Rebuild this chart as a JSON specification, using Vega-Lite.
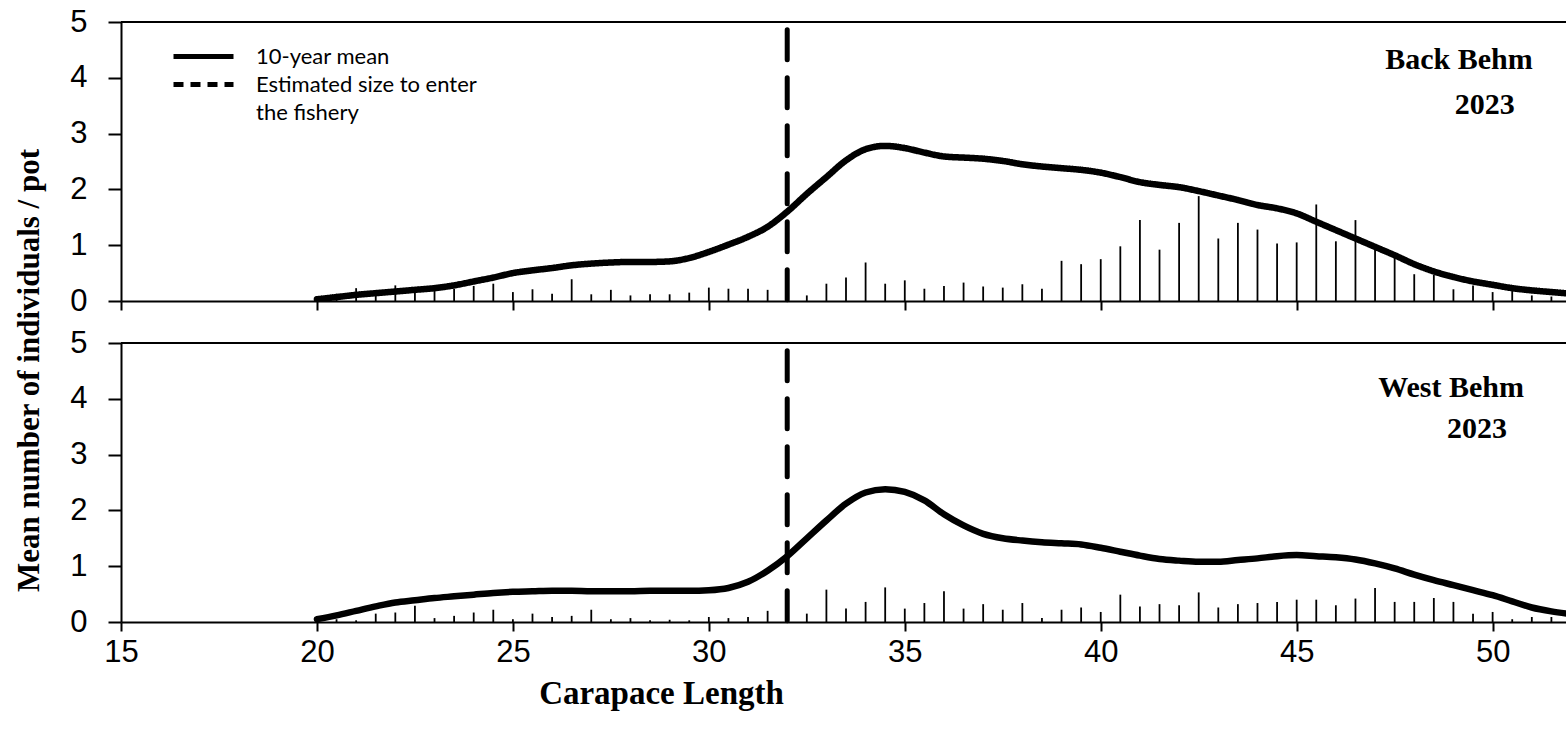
{
  "$schema": "https://vega.github.io/schema/vega-lite/v6.json",
  "background": "white",
  "padding": {"left": 13, "top": 6, "right": 0, "bottom": 5},
  "spacing": 42,
  "bounds": "flush",
  "datasets": {
    "bars": [
      {"site": "Back Behm", "cl": 20.5, "n": 0.13}, {"site": "Back Behm", "cl": 21.0, "n": 0.23}, {"site": "Back Behm", "cl": 21.5, "n": 0.1},
      {"site": "Back Behm", "cl": 22.0, "n": 0.28}, {"site": "Back Behm", "cl": 22.5, "n": 0.16}, {"site": "Back Behm", "cl": 23.0, "n": 0.19},
      {"site": "Back Behm", "cl": 23.5, "n": 0.22}, {"site": "Back Behm", "cl": 24.0, "n": 0.27}, {"site": "Back Behm", "cl": 24.5, "n": 0.31},
      {"site": "Back Behm", "cl": 25.0, "n": 0.16}, {"site": "Back Behm", "cl": 25.5, "n": 0.21}, {"site": "Back Behm", "cl": 26.0, "n": 0.13},
      {"site": "Back Behm", "cl": 26.5, "n": 0.39}, {"site": "Back Behm", "cl": 27.0, "n": 0.12}, {"site": "Back Behm", "cl": 27.5, "n": 0.2},
      {"site": "Back Behm", "cl": 28.0, "n": 0.1}, {"site": "Back Behm", "cl": 28.5, "n": 0.12}, {"site": "Back Behm", "cl": 29.0, "n": 0.12},
      {"site": "Back Behm", "cl": 29.5, "n": 0.15}, {"site": "Back Behm", "cl": 30.0, "n": 0.24}, {"site": "Back Behm", "cl": 30.5, "n": 0.22},
      {"site": "Back Behm", "cl": 31.0, "n": 0.22}, {"site": "Back Behm", "cl": 31.5, "n": 0.2}, {"site": "Back Behm", "cl": 32.5, "n": 0.1},
      {"site": "Back Behm", "cl": 33.0, "n": 0.31}, {"site": "Back Behm", "cl": 33.5, "n": 0.42}, {"site": "Back Behm", "cl": 34.0, "n": 0.69},
      {"site": "Back Behm", "cl": 34.5, "n": 0.31}, {"site": "Back Behm", "cl": 35.0, "n": 0.37}, {"site": "Back Behm", "cl": 35.5, "n": 0.22},
      {"site": "Back Behm", "cl": 36.0, "n": 0.27}, {"site": "Back Behm", "cl": 36.5, "n": 0.33}, {"site": "Back Behm", "cl": 37.0, "n": 0.26},
      {"site": "Back Behm", "cl": 37.5, "n": 0.24}, {"site": "Back Behm", "cl": 38.0, "n": 0.3}, {"site": "Back Behm", "cl": 38.5, "n": 0.22},
      {"site": "Back Behm", "cl": 39.0, "n": 0.72}, {"site": "Back Behm", "cl": 39.5, "n": 0.66}, {"site": "Back Behm", "cl": 40.0, "n": 0.75},
      {"site": "Back Behm", "cl": 40.5, "n": 0.98}, {"site": "Back Behm", "cl": 41.0, "n": 1.45}, {"site": "Back Behm", "cl": 41.5, "n": 0.92},
      {"site": "Back Behm", "cl": 42.0, "n": 1.4}, {"site": "Back Behm", "cl": 42.5, "n": 1.88}, {"site": "Back Behm", "cl": 43.0, "n": 1.12},
      {"site": "Back Behm", "cl": 43.5, "n": 1.4}, {"site": "Back Behm", "cl": 44.0, "n": 1.28}, {"site": "Back Behm", "cl": 44.5, "n": 1.03},
      {"site": "Back Behm", "cl": 45.0, "n": 1.05}, {"site": "Back Behm", "cl": 45.5, "n": 1.73}, {"site": "Back Behm", "cl": 46.0, "n": 1.07},
      {"site": "Back Behm", "cl": 46.5, "n": 1.45}, {"site": "Back Behm", "cl": 47.0, "n": 0.95}, {"site": "Back Behm", "cl": 47.5, "n": 0.78},
      {"site": "Back Behm", "cl": 48.0, "n": 0.48}, {"site": "Back Behm", "cl": 48.5, "n": 0.47}, {"site": "Back Behm", "cl": 49.0, "n": 0.21},
      {"site": "Back Behm", "cl": 49.5, "n": 0.28}, {"site": "Back Behm", "cl": 50.0, "n": 0.16}, {"site": "Back Behm", "cl": 50.5, "n": 0.26},
      {"site": "Back Behm", "cl": 51.0, "n": 0.1}, {"site": "Back Behm", "cl": 51.5, "n": 0.08},
      {"site": "West Behm", "cl": 20.5, "n": 0.05}, {"site": "West Behm", "cl": 21.0, "n": 0.03}, {"site": "West Behm", "cl": 21.5, "n": 0.15},
      {"site": "West Behm", "cl": 22.0, "n": 0.17}, {"site": "West Behm", "cl": 22.5, "n": 0.29}, {"site": "West Behm", "cl": 23.0, "n": 0.07},
      {"site": "West Behm", "cl": 23.5, "n": 0.11}, {"site": "West Behm", "cl": 24.0, "n": 0.17}, {"site": "West Behm", "cl": 24.5, "n": 0.22},
      {"site": "West Behm", "cl": 25.0, "n": 0.05}, {"site": "West Behm", "cl": 25.5, "n": 0.15}, {"site": "West Behm", "cl": 26.0, "n": 0.09},
      {"site": "West Behm", "cl": 26.5, "n": 0.11}, {"site": "West Behm", "cl": 27.0, "n": 0.22}, {"site": "West Behm", "cl": 27.5, "n": 0.05},
      {"site": "West Behm", "cl": 28.0, "n": 0.07}, {"site": "West Behm", "cl": 28.5, "n": 0.03}, {"site": "West Behm", "cl": 29.0, "n": 0.04},
      {"site": "West Behm", "cl": 29.5, "n": 0.03}, {"site": "West Behm", "cl": 30.0, "n": 0.09}, {"site": "West Behm", "cl": 30.5, "n": 0.07},
      {"site": "West Behm", "cl": 31.0, "n": 0.09}, {"site": "West Behm", "cl": 31.5, "n": 0.2}, {"site": "West Behm", "cl": 32.5, "n": 0.15},
      {"site": "West Behm", "cl": 33.0, "n": 0.58}, {"site": "West Behm", "cl": 33.5, "n": 0.24}, {"site": "West Behm", "cl": 34.0, "n": 0.36},
      {"site": "West Behm", "cl": 34.5, "n": 0.62}, {"site": "West Behm", "cl": 35.0, "n": 0.24}, {"site": "West Behm", "cl": 35.5, "n": 0.34},
      {"site": "West Behm", "cl": 36.0, "n": 0.55}, {"site": "West Behm", "cl": 36.5, "n": 0.24}, {"site": "West Behm", "cl": 37.0, "n": 0.32},
      {"site": "West Behm", "cl": 37.5, "n": 0.22}, {"site": "West Behm", "cl": 38.0, "n": 0.34}, {"site": "West Behm", "cl": 38.5, "n": 0.07},
      {"site": "West Behm", "cl": 39.0, "n": 0.22}, {"site": "West Behm", "cl": 39.5, "n": 0.26}, {"site": "West Behm", "cl": 40.0, "n": 0.18},
      {"site": "West Behm", "cl": 40.5, "n": 0.49}, {"site": "West Behm", "cl": 41.0, "n": 0.28}, {"site": "West Behm", "cl": 41.5, "n": 0.32},
      {"site": "West Behm", "cl": 42.0, "n": 0.3}, {"site": "West Behm", "cl": 42.5, "n": 0.53}, {"site": "West Behm", "cl": 43.0, "n": 0.26},
      {"site": "West Behm", "cl": 43.5, "n": 0.32}, {"site": "West Behm", "cl": 44.0, "n": 0.34}, {"site": "West Behm", "cl": 44.5, "n": 0.36},
      {"site": "West Behm", "cl": 45.0, "n": 0.4}, {"site": "West Behm", "cl": 45.5, "n": 0.4}, {"site": "West Behm", "cl": 46.0, "n": 0.3},
      {"site": "West Behm", "cl": 46.5, "n": 0.42}, {"site": "West Behm", "cl": 47.0, "n": 0.61}, {"site": "West Behm", "cl": 47.5, "n": 0.36},
      {"site": "West Behm", "cl": 48.0, "n": 0.36}, {"site": "West Behm", "cl": 48.5, "n": 0.43}, {"site": "West Behm", "cl": 49.0, "n": 0.36},
      {"site": "West Behm", "cl": 49.5, "n": 0.15}, {"site": "West Behm", "cl": 50.0, "n": 0.18}, {"site": "West Behm", "cl": 50.5, "n": 0.05},
      {"site": "West Behm", "cl": 51.0, "n": 0.09}, {"site": "West Behm", "cl": 51.5, "n": 0.09}
    ],
    "mean": [
      {"site": "Back Behm", "cl": 20, "m": 0.03}, {"site": "Back Behm", "cl": 20.5, "m": 0.07}, {"site": "Back Behm", "cl": 21, "m": 0.11},
      {"site": "Back Behm", "cl": 21.5, "m": 0.14}, {"site": "Back Behm", "cl": 22, "m": 0.17}, {"site": "Back Behm", "cl": 22.5, "m": 0.2},
      {"site": "Back Behm", "cl": 23, "m": 0.23}, {"site": "Back Behm", "cl": 23.5, "m": 0.28}, {"site": "Back Behm", "cl": 24, "m": 0.35},
      {"site": "Back Behm", "cl": 24.5, "m": 0.42}, {"site": "Back Behm", "cl": 25, "m": 0.5}, {"site": "Back Behm", "cl": 25.5, "m": 0.55},
      {"site": "Back Behm", "cl": 26, "m": 0.59}, {"site": "Back Behm", "cl": 26.5, "m": 0.64}, {"site": "Back Behm", "cl": 27, "m": 0.67},
      {"site": "Back Behm", "cl": 27.5, "m": 0.69}, {"site": "Back Behm", "cl": 28, "m": 0.7}, {"site": "Back Behm", "cl": 28.5, "m": 0.7},
      {"site": "Back Behm", "cl": 29, "m": 0.71}, {"site": "Back Behm", "cl": 29.5, "m": 0.77}, {"site": "Back Behm", "cl": 30, "m": 0.88},
      {"site": "Back Behm", "cl": 30.5, "m": 1.01}, {"site": "Back Behm", "cl": 31, "m": 1.15}, {"site": "Back Behm", "cl": 31.5, "m": 1.33},
      {"site": "Back Behm", "cl": 32, "m": 1.6}, {"site": "Back Behm", "cl": 32.5, "m": 1.92}, {"site": "Back Behm", "cl": 33, "m": 2.22},
      {"site": "Back Behm", "cl": 33.5, "m": 2.52}, {"site": "Back Behm", "cl": 34, "m": 2.72}, {"site": "Back Behm", "cl": 34.5, "m": 2.78},
      {"site": "Back Behm", "cl": 35, "m": 2.74}, {"site": "Back Behm", "cl": 35.5, "m": 2.66}, {"site": "Back Behm", "cl": 36, "m": 2.59},
      {"site": "Back Behm", "cl": 36.5, "m": 2.57}, {"site": "Back Behm", "cl": 37, "m": 2.55}, {"site": "Back Behm", "cl": 37.5, "m": 2.51},
      {"site": "Back Behm", "cl": 38, "m": 2.45}, {"site": "Back Behm", "cl": 38.5, "m": 2.41}, {"site": "Back Behm", "cl": 39, "m": 2.38},
      {"site": "Back Behm", "cl": 39.5, "m": 2.35}, {"site": "Back Behm", "cl": 40, "m": 2.3}, {"site": "Back Behm", "cl": 40.5, "m": 2.22},
      {"site": "Back Behm", "cl": 41, "m": 2.13}, {"site": "Back Behm", "cl": 41.5, "m": 2.08}, {"site": "Back Behm", "cl": 42, "m": 2.04},
      {"site": "Back Behm", "cl": 42.5, "m": 1.97}, {"site": "Back Behm", "cl": 43, "m": 1.89}, {"site": "Back Behm", "cl": 43.5, "m": 1.81},
      {"site": "Back Behm", "cl": 44, "m": 1.72}, {"site": "Back Behm", "cl": 44.5, "m": 1.66}, {"site": "Back Behm", "cl": 45, "m": 1.57},
      {"site": "Back Behm", "cl": 45.5, "m": 1.42}, {"site": "Back Behm", "cl": 46, "m": 1.27}, {"site": "Back Behm", "cl": 46.5, "m": 1.12},
      {"site": "Back Behm", "cl": 47, "m": 0.97}, {"site": "Back Behm", "cl": 47.5, "m": 0.82}, {"site": "Back Behm", "cl": 48, "m": 0.66},
      {"site": "Back Behm", "cl": 48.5, "m": 0.53}, {"site": "Back Behm", "cl": 49, "m": 0.43}, {"site": "Back Behm", "cl": 49.5, "m": 0.35},
      {"site": "Back Behm", "cl": 50, "m": 0.29}, {"site": "Back Behm", "cl": 50.5, "m": 0.23}, {"site": "Back Behm", "cl": 51, "m": 0.19},
      {"site": "Back Behm", "cl": 51.5, "m": 0.16}, {"site": "Back Behm", "cl": 52, "m": 0.13},
      {"site": "West Behm", "cl": 20, "m": 0.05}, {"site": "West Behm", "cl": 20.5, "m": 0.12}, {"site": "West Behm", "cl": 21, "m": 0.2},
      {"site": "West Behm", "cl": 21.5, "m": 0.28}, {"site": "West Behm", "cl": 22, "m": 0.35}, {"site": "West Behm", "cl": 22.5, "m": 0.39},
      {"site": "West Behm", "cl": 23, "m": 0.43}, {"site": "West Behm", "cl": 23.5, "m": 0.46}, {"site": "West Behm", "cl": 24, "m": 0.49},
      {"site": "West Behm", "cl": 24.5, "m": 0.52}, {"site": "West Behm", "cl": 25, "m": 0.54}, {"site": "West Behm", "cl": 25.5, "m": 0.55},
      {"site": "West Behm", "cl": 26, "m": 0.56}, {"site": "West Behm", "cl": 26.5, "m": 0.56}, {"site": "West Behm", "cl": 27, "m": 0.55},
      {"site": "West Behm", "cl": 27.5, "m": 0.55}, {"site": "West Behm", "cl": 28, "m": 0.55}, {"site": "West Behm", "cl": 28.5, "m": 0.56},
      {"site": "West Behm", "cl": 29, "m": 0.56}, {"site": "West Behm", "cl": 29.5, "m": 0.56}, {"site": "West Behm", "cl": 30, "m": 0.57},
      {"site": "West Behm", "cl": 30.5, "m": 0.61}, {"site": "West Behm", "cl": 31, "m": 0.72}, {"site": "West Behm", "cl": 31.5, "m": 0.92},
      {"site": "West Behm", "cl": 32, "m": 1.18}, {"site": "West Behm", "cl": 32.5, "m": 1.5}, {"site": "West Behm", "cl": 33, "m": 1.82},
      {"site": "West Behm", "cl": 33.5, "m": 2.12}, {"site": "West Behm", "cl": 34, "m": 2.32}, {"site": "West Behm", "cl": 34.5, "m": 2.38},
      {"site": "West Behm", "cl": 35, "m": 2.33}, {"site": "West Behm", "cl": 35.5, "m": 2.18}, {"site": "West Behm", "cl": 36, "m": 1.93},
      {"site": "West Behm", "cl": 36.5, "m": 1.73}, {"site": "West Behm", "cl": 37, "m": 1.58}, {"site": "West Behm", "cl": 37.5, "m": 1.5},
      {"site": "West Behm", "cl": 38, "m": 1.46}, {"site": "West Behm", "cl": 38.5, "m": 1.43}, {"site": "West Behm", "cl": 39, "m": 1.41},
      {"site": "West Behm", "cl": 39.5, "m": 1.39}, {"site": "West Behm", "cl": 40, "m": 1.33}, {"site": "West Behm", "cl": 40.5, "m": 1.26},
      {"site": "West Behm", "cl": 41, "m": 1.19}, {"site": "West Behm", "cl": 41.5, "m": 1.13}, {"site": "West Behm", "cl": 42, "m": 1.1},
      {"site": "West Behm", "cl": 42.5, "m": 1.08}, {"site": "West Behm", "cl": 43, "m": 1.08}, {"site": "West Behm", "cl": 43.5, "m": 1.11},
      {"site": "West Behm", "cl": 44, "m": 1.14}, {"site": "West Behm", "cl": 44.5, "m": 1.18}, {"site": "West Behm", "cl": 45, "m": 1.2},
      {"site": "West Behm", "cl": 45.5, "m": 1.18}, {"site": "West Behm", "cl": 46, "m": 1.16}, {"site": "West Behm", "cl": 46.5, "m": 1.12},
      {"site": "West Behm", "cl": 47, "m": 1.05}, {"site": "West Behm", "cl": 47.5, "m": 0.96}, {"site": "West Behm", "cl": 48, "m": 0.85},
      {"site": "West Behm", "cl": 48.5, "m": 0.75}, {"site": "West Behm", "cl": 49, "m": 0.66}, {"site": "West Behm", "cl": 49.5, "m": 0.57},
      {"site": "West Behm", "cl": 50, "m": 0.48}, {"site": "West Behm", "cl": 50.5, "m": 0.37}, {"site": "West Behm", "cl": 51, "m": 0.26},
      {"site": "West Behm", "cl": 51.5, "m": 0.19}, {"site": "West Behm", "cl": 52, "m": 0.14}
    ]
  },
  "vconcat": [
    {
      "width": 1450,
      "height": 279,
      "layer": [
        {
          "data": {"values": [{}]},
          "mark": {"type": "rule", "color": "black", "strokeWidth": 2},
          "encoding": {"y": {"datum": 5, "type": "quantitative", "scale": {"domain": [0, 5]}}}
        },
        {
          "data": {"name": "bars"},
          "transform": [{"filter": "datum.site == 'Back Behm'"}],
          "mark": {"type": "rule", "color": "black", "strokeWidth": 1.8},
          "encoding": {
            "x": {"field": "cl", "type": "quantitative", "scale": {"domain": [15, 52], "nice": false},
              "axis": {"values": [15, 20, 25, 30, 35, 40, 45, 50], "labels": false, "title": null, "tickSize": 9, "grid": false}},
            "y": {"field": "n", "type": "quantitative", "scale": {"domain": [0, 5]},
              "axis": {"values": [0, 1, 2, 3, 4, 5], "title": "Mean number of individuals / pot", "titleY": 348, "grid": false}},
            "y2": {"datum": 0}
          }
        },
        {
          "data": {"name": "mean"},
          "transform": [{"filter": "datum.site == 'Back Behm'"}],
          "mark": {"type": "line", "color": "black", "strokeWidth": 6.5, "interpolate": "monotone", "strokeCap": "round", "strokeJoin": "round", "clip": true},
          "encoding": {
            "x": {"field": "cl", "type": "quantitative"},
            "y": {"field": "m", "type": "quantitative"},
            "strokeDash": {"datum": "10-year mean", "type": "nominal",
              "scale": {"domain": ["10-year mean", "Estimated size to enter", "the fishery"], "range": [[1, 0], [10, 7], [0, 1000]]},
              "legend": {"orient": "none", "legendX": 70, "legendY": 22, "title": null, "symbolType": "M-3,0H3", "symbolSize": 400,
                "symbolStrokeWidth": 5, "symbolStrokeColor": "black", "labelFont": "Lato", "labelFontSize": 22, "labelColor": "black",
                "labelOffset": 40, "rowPadding": 4, "labelLimit": 400}}
          }
        },
        {
          "data": {"values": [{}]},
          "mark": {"type": "rule", "color": "black", "strokeWidth": 3},
          "encoding": {
            "x": {"datum": 32, "type": "quantitative"},
            "y": {"datum": 0, "type": "quantitative"},
            "y2": {"datum": 0},
            "strokeDash": {"datum": "Estimated size to enter", "type": "nominal"}
          }
        },
        {
          "data": {"values": [{}]},
          "mark": {"type": "rule", "color": "black", "strokeWidth": 5, "strokeCap": "round", "strokeDash": [30, 18]},
          "encoding": {"x": {"datum": 32, "type": "quantitative"}, "y": {"datum": 4.86, "type": "quantitative"}, "y2": {"datum": 0}}
        },
        {
          "data": {"values": [{}]},
          "mark": {"type": "text", "font": "Liberation Serif", "fontWeight": "bold", "fontSize": 30, "align": "center", "baseline": "middle", "color": "black"},
          "encoding": {"x": {"datum": 49.14, "type": "quantitative"}, "y": {"datum": 4.32, "type": "quantitative"}, "text": {"value": "Back Behm"}}
        },
        {
          "data": {"values": [{}]},
          "mark": {"type": "text", "font": "Liberation Serif", "fontWeight": "bold", "fontSize": 30, "align": "center", "baseline": "middle", "color": "black"},
          "encoding": {"x": {"datum": 49.8, "type": "quantitative"}, "y": {"datum": 3.52, "type": "quantitative"}, "text": {"value": "2023"}}
        }
      ]
    },
    {
      "width": 1450,
      "height": 279,
      "layer": [
        {
          "data": {"values": [{}]},
          "mark": {"type": "rule", "color": "black", "strokeWidth": 2},
          "encoding": {"y": {"datum": 5, "type": "quantitative", "scale": {"domain": [0, 5]}}}
        },
        {
          "data": {"name": "bars"},
          "transform": [{"filter": "datum.site == 'West Behm'"}],
          "mark": {"type": "rule", "color": "black", "strokeWidth": 1.8},
          "encoding": {
            "x": {"field": "cl", "type": "quantitative", "scale": {"domain": [15, 52], "nice": false},
              "axis": {"values": [15, 20, 25, 30, 35, 40, 45, 50], "title": "Carapace Length", "titleX": 540, "titleY": 55, "titleFontSize": 33, "tickSize": 9, "grid": false}},
            "y": {"field": "n", "type": "quantitative", "scale": {"domain": [0, 5]},
              "axis": {"values": [0, 1, 2, 3, 4, 5], "title": null, "grid": false}},
            "y2": {"datum": 0}
          }
        },
        {
          "data": {"name": "mean"},
          "transform": [{"filter": "datum.site == 'West Behm'"}],
          "mark": {"type": "line", "color": "black", "strokeWidth": 6.5, "interpolate": "monotone", "strokeCap": "round", "strokeJoin": "round", "clip": true},
          "encoding": {"x": {"field": "cl", "type": "quantitative"}, "y": {"field": "m", "type": "quantitative"}}
        },
        {
          "data": {"values": [{}]},
          "mark": {"type": "rule", "color": "black", "strokeWidth": 5, "strokeCap": "round", "strokeDash": [30, 18]},
          "encoding": {"x": {"datum": 32, "type": "quantitative"}, "y": {"datum": 4.86, "type": "quantitative"}, "y2": {"datum": 0}}
        },
        {
          "data": {"values": [{}]},
          "mark": {"type": "text", "font": "Liberation Serif", "fontWeight": "bold", "fontSize": 30, "align": "center", "baseline": "middle", "color": "black"},
          "encoding": {"x": {"datum": 48.94, "type": "quantitative"}, "y": {"datum": 4.2, "type": "quantitative"}, "text": {"value": "West Behm"}}
        },
        {
          "data": {"values": [{}]},
          "mark": {"type": "text", "font": "Liberation Serif", "fontWeight": "bold", "fontSize": 30, "align": "center", "baseline": "middle", "color": "black"},
          "encoding": {"x": {"datum": 49.6, "type": "quantitative"}, "y": {"datum": 3.45, "type": "quantitative"}, "text": {"value": "2023"}}
        }
      ]
    }
  ],
  "config": {
    "view": {"stroke": null},
    "axis": {
      "domainColor": "black", "domainWidth": 2, "tickColor": "black", "tickWidth": 2,
      "labelFont": "Liberation Sans", "labelFontSize": 31, "labelColor": "black",
      "titleFont": "Liberation Serif", "titleFontWeight": "bold", "titleFontSize": 31, "titleColor": "black"
    },
    "axisY": {"tickSize": 13, "labelPadding": 21, "titlePadding": 24},
    "axisX": {"labelPadding": 6, "labelFlush": false}
  }
}
